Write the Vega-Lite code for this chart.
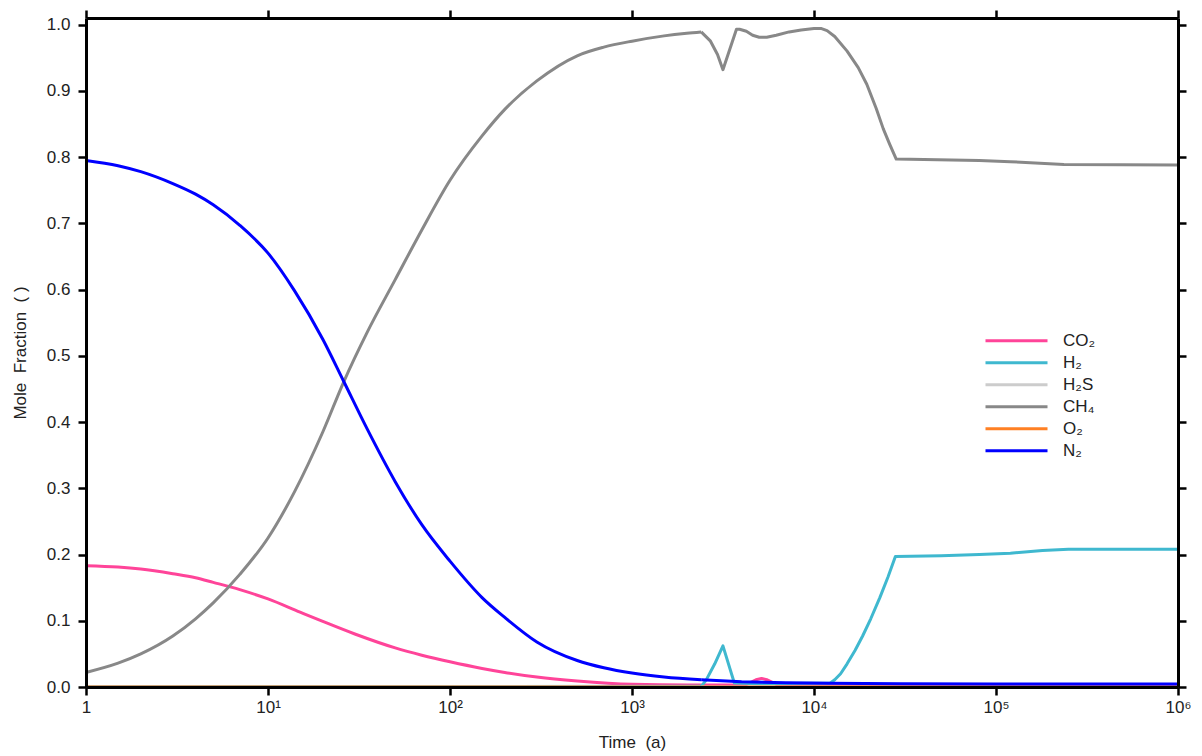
{
  "$schema": "https://vega.github.io/schema/vega-lite/v6.json",
  "autosize": {"type": "none"},
  "padding": {"left": 86, "top": 18, "right": 24, "bottom": 69},
  "width": 1092,
  "height": 669,
  "background": "white",
  "config": {
    "view": {"stroke": null},
    "font": "Liberation Sans",
    "axis": {
      "domainColor": "#000000",
      "domainWidth": 3,
      "tickColor": "#000000",
      "tickWidth": 2.5,
      "tickSize": 8,
      "grid": false,
      "labelFont": "Liberation Sans",
      "labelFontSize": 17,
      "labelColor": "#222222",
      "titleFont": "Liberation Sans",
      "titleFontSize": 17,
      "titleFontWeight": "normal",
      "titleColor": "#222222"
    }
  },
  "data": {
    "values": [
      {"species": "CO2", "t": 1, "v": 0.183},
      {"species": "CO2", "t": 1.5, "v": 0.181},
      {"species": "CO2", "t": 2, "v": 0.178},
      {"species": "CO2", "t": 3, "v": 0.171},
      {"species": "CO2", "t": 4, "v": 0.165},
      {"species": "CO2", "t": 5, "v": 0.158},
      {"species": "CO2", "t": 7, "v": 0.147},
      {"species": "CO2", "t": 10, "v": 0.133},
      {"species": "CO2", "t": 15, "v": 0.113},
      {"species": "CO2", "t": 20, "v": 0.099},
      {"species": "CO2", "t": 30, "v": 0.08},
      {"species": "CO2", "t": 50, "v": 0.059},
      {"species": "CO2", "t": 70, "v": 0.048},
      {"species": "CO2", "t": 100, "v": 0.038},
      {"species": "CO2", "t": 150, "v": 0.028},
      {"species": "CO2", "t": 200, "v": 0.022},
      {"species": "CO2", "t": 300, "v": 0.015},
      {"species": "CO2", "t": 500, "v": 0.009},
      {"species": "CO2", "t": 1000, "v": 0.004},
      {"species": "CO2", "t": 2000, "v": 0.003},
      {"species": "CO2", "t": 2400, "v": 0.003},
      {"species": "CO2", "t": 4200, "v": 0.003},
      {"species": "CO2", "t": 4500, "v": 0.007},
      {"species": "CO2", "t": 4800, "v": 0.011},
      {"species": "CO2", "t": 5150, "v": 0.013},
      {"species": "CO2", "t": 5500, "v": 0.011},
      {"species": "CO2", "t": 5900, "v": 0.007},
      {"species": "CO2", "t": 6300, "v": 0.003},
      {"species": "CO2", "t": 10000, "v": 0.002},
      {"species": "CO2", "t": 1000000, "v": 0.002},
      {"species": "H2", "t": 1, "v": 0.0005},
      {"species": "H2", "t": 2400, "v": 0.001},
      {"species": "H2", "t": 2550, "v": 0.01},
      {"species": "H2", "t": 2850, "v": 0.035},
      {"species": "H2", "t": 3160, "v": 0.062},
      {"species": "H2", "t": 3650, "v": 0.006},
      {"species": "H2", "t": 5000, "v": 0.005},
      {"species": "H2", "t": 12300, "v": 0.006},
      {"species": "H2", "t": 13000, "v": 0.011},
      {"species": "H2", "t": 14000, "v": 0.02},
      {"species": "H2", "t": 15200, "v": 0.035},
      {"species": "H2", "t": 16800, "v": 0.055},
      {"species": "H2", "t": 18500, "v": 0.077},
      {"species": "H2", "t": 20500, "v": 0.103},
      {"species": "H2", "t": 23000, "v": 0.135},
      {"species": "H2", "t": 25500, "v": 0.166},
      {"species": "H2", "t": 28000, "v": 0.197},
      {"species": "H2", "t": 50000, "v": 0.198},
      {"species": "H2", "t": 81000, "v": 0.2},
      {"species": "H2", "t": 120000, "v": 0.202},
      {"species": "H2", "t": 180000, "v": 0.206},
      {"species": "H2", "t": 250000, "v": 0.208},
      {"species": "H2", "t": 1000000, "v": 0.208},
      {"species": "H2S", "t": 1, "v": 0},
      {"species": "H2S", "t": 2400, "v": 0},
      {"species": "H2S", "t": 1000000, "v": 0},
      {"species": "CH4", "t": 1, "v": 0.022},
      {"species": "CH4", "t": 1.5, "v": 0.036},
      {"species": "CH4", "t": 2, "v": 0.05},
      {"species": "CH4", "t": 3, "v": 0.077},
      {"species": "CH4", "t": 4, "v": 0.103},
      {"species": "CH4", "t": 5, "v": 0.127},
      {"species": "CH4", "t": 7, "v": 0.17},
      {"species": "CH4", "t": 10, "v": 0.225},
      {"species": "CH4", "t": 14, "v": 0.295},
      {"species": "CH4", "t": 20, "v": 0.385},
      {"species": "CH4", "t": 26, "v": 0.46},
      {"species": "CH4", "t": 35, "v": 0.535},
      {"species": "CH4", "t": 50, "v": 0.615},
      {"species": "CH4", "t": 70, "v": 0.69},
      {"species": "CH4", "t": 100, "v": 0.765},
      {"species": "CH4", "t": 150, "v": 0.832},
      {"species": "CH4", "t": 200, "v": 0.872},
      {"species": "CH4", "t": 300, "v": 0.915},
      {"species": "CH4", "t": 500, "v": 0.953},
      {"species": "CH4", "t": 700, "v": 0.966},
      {"species": "CH4", "t": 1000, "v": 0.975},
      {"species": "CH4", "t": 1500, "v": 0.983},
      {"species": "CH4", "t": 2000, "v": 0.987},
      {"species": "CH4", "t": 2400, "v": 0.989},
      {"species": "CH4", "t": 2700, "v": 0.975},
      {"species": "CH4", "t": 2950, "v": 0.955},
      {"species": "CH4", "t": 3160, "v": 0.932},
      {"species": "CH4", "t": 3750, "v": 0.993},
      {"species": "CH4", "t": 3900, "v": 0.993},
      {"species": "CH4", "t": 4250, "v": 0.99},
      {"species": "CH4", "t": 4600, "v": 0.984},
      {"species": "CH4", "t": 5000, "v": 0.981},
      {"species": "CH4", "t": 5500, "v": 0.981},
      {"species": "CH4", "t": 6200, "v": 0.984},
      {"species": "CH4", "t": 7300, "v": 0.989},
      {"species": "CH4", "t": 8500, "v": 0.992},
      {"species": "CH4", "t": 10000, "v": 0.994},
      {"species": "CH4", "t": 11000, "v": 0.994},
      {"species": "CH4", "t": 11800, "v": 0.991},
      {"species": "CH4", "t": 13000, "v": 0.982},
      {"species": "CH4", "t": 15200, "v": 0.96},
      {"species": "CH4", "t": 17500, "v": 0.935},
      {"species": "CH4", "t": 19500, "v": 0.91},
      {"species": "CH4", "t": 22000, "v": 0.873},
      {"species": "CH4", "t": 24000, "v": 0.843},
      {"species": "CH4", "t": 26000, "v": 0.82},
      {"species": "CH4", "t": 28300, "v": 0.797},
      {"species": "CH4", "t": 81000, "v": 0.795},
      {"species": "CH4", "t": 120000, "v": 0.793},
      {"species": "CH4", "t": 236000, "v": 0.789},
      {"species": "CH4", "t": 1000000, "v": 0.788},
      {"species": "O2", "t": 1, "v": 0},
      {"species": "O2", "t": 2400, "v": 0},
      {"species": "O2", "t": 1000000, "v": 0},
      {"species": "N2", "t": 1, "v": 0.795},
      {"species": "N2", "t": 1.5, "v": 0.787},
      {"species": "N2", "t": 2, "v": 0.778},
      {"species": "N2", "t": 3, "v": 0.76},
      {"species": "N2", "t": 4, "v": 0.744},
      {"species": "N2", "t": 5, "v": 0.728},
      {"species": "N2", "t": 7, "v": 0.697},
      {"species": "N2", "t": 10, "v": 0.655},
      {"species": "N2", "t": 14, "v": 0.598},
      {"species": "N2", "t": 20, "v": 0.525},
      {"species": "N2", "t": 26, "v": 0.462},
      {"species": "N2", "t": 35, "v": 0.39},
      {"species": "N2", "t": 50, "v": 0.31},
      {"species": "N2", "t": 70, "v": 0.245},
      {"species": "N2", "t": 100, "v": 0.19},
      {"species": "N2", "t": 150, "v": 0.135},
      {"species": "N2", "t": 200, "v": 0.105},
      {"species": "N2", "t": 300, "v": 0.068},
      {"species": "N2", "t": 500, "v": 0.04},
      {"species": "N2", "t": 700, "v": 0.029},
      {"species": "N2", "t": 1000, "v": 0.021},
      {"species": "N2", "t": 1500, "v": 0.015},
      {"species": "N2", "t": 2400, "v": 0.0108},
      {"species": "N2", "t": 4000, "v": 0.008},
      {"species": "N2", "t": 7000, "v": 0.0065},
      {"species": "N2", "t": 12000, "v": 0.0055},
      {"species": "N2", "t": 30000, "v": 0.005},
      {"species": "N2", "t": 100000, "v": 0.0045},
      {"species": "N2", "t": 1000000, "v": 0.0045}
    ]
  },
  "layer": [
    {
      "transform": [{"filter": "datum.t <= 2400"}],
      "mark": {"type": "line", "strokeWidth": 3, "interpolate": "monotone", "strokeJoin": "round"},
      "encoding": {
        "x": {
          "field": "t", "type": "quantitative",
          "scale": {"type": "log", "domain": [1, 1000000]},
          "axis": {
            "title": "Time\u00a0 (a)",
            "zindex": 1,
            "values": [1, 10, 100, 1000, 10000, 100000, 1000000],
            "labelExpr": "datum.value == 1 ? '1' : '10' + ['', '¹', '²', '³', '⁴', '⁵', '⁶'][round(log(datum.value) / LN10)]",
            "labelPadding": 4,
            "labelFlush": false,
            "labelOverlap": false,
            "titlePadding": 19
          }
        },
        "y": {
          "field": "v", "type": "quantitative",
          "scale": {"domain": [0, 1.01]},
          "axis": {
            "title": "Mole\u00a0 Fraction\u00a0 ( )",
            "zindex": 1,
            "values": [0, 0.1, 0.2, 0.3, 0.4, 0.5, 0.6, 0.7, 0.8, 0.9, 1.0],
            "format": ".1f",
            "labelPadding": 8,
            "titlePadding": 17
          }
        },
        "color": {
          "field": "species", "type": "nominal",
          "scale": {
            "domain": ["CO2", "H2", "H2S", "CH4", "O2", "N2"],
            "range": ["#FF4499", "#3FB8CF", "#CCCCCC", "#888888", "#FF8024", "#0000FF"]
          },
          "legend": {
            "title": null,
            "orient": "none",
            "legendX": 898,
            "legendY": 312,
            "symbolType": "stroke",
            "symbolSize": 3844,
            "symbolStrokeWidth": 3,
            "labelOffset": 14,
            "labelFont": "Liberation Sans",
            "labelFontSize": 17,
            "labelColor": "#222222",
            "clipHeight": 21.5,
            "rowPadding": 0,
            "labelExpr": "{'CO2': 'CO₂', 'H2': 'H₂', 'H2S': 'H₂S', 'CH4': 'CH₄', 'O2': 'O₂', 'N2': 'N₂'}[datum.label]"
          }
        }
      }
    },
    {
      "transform": [{"filter": "datum.t >= 2400"}],
      "mark": {"type": "line", "strokeWidth": 3, "interpolate": "linear", "strokeJoin": "round"},
      "encoding": {
        "x": {"field": "t", "type": "quantitative", "scale": {"type": "log", "domain": [1, 1000000]}, "axis": null},
        "y": {"field": "v", "type": "quantitative", "scale": {"domain": [0, 1.01]}, "axis": null},
        "color": {"field": "species", "type": "nominal", "legend": null}
      }
    },
    {
      "mark": {"type": "line", "strokeOpacity": 0},
      "encoding": {
        "x": {
          "field": "t", "type": "quantitative",
          "scale": {"type": "log", "domain": [1, 1000000]},
          "axis": {"orient": "top", "title": null, "labels": false, "zindex": 1, "values": [1, 10, 100, 1000, 10000, 100000, 1000000]}
        },
        "y": {
          "field": "v", "type": "quantitative",
          "scale": {"domain": [0, 1.01]},
          "axis": {"orient": "right", "title": null, "labels": false, "zindex": 1, "values": [0, 0.1, 0.2, 0.3, 0.4, 0.5, 0.6, 0.7, 0.8, 0.9, 1.0]}
        },
        "detail": {"field": "species"}
      }
    }
  ],
  "resolve": {"axis": {"x": "independent", "y": "independent"}}
}
